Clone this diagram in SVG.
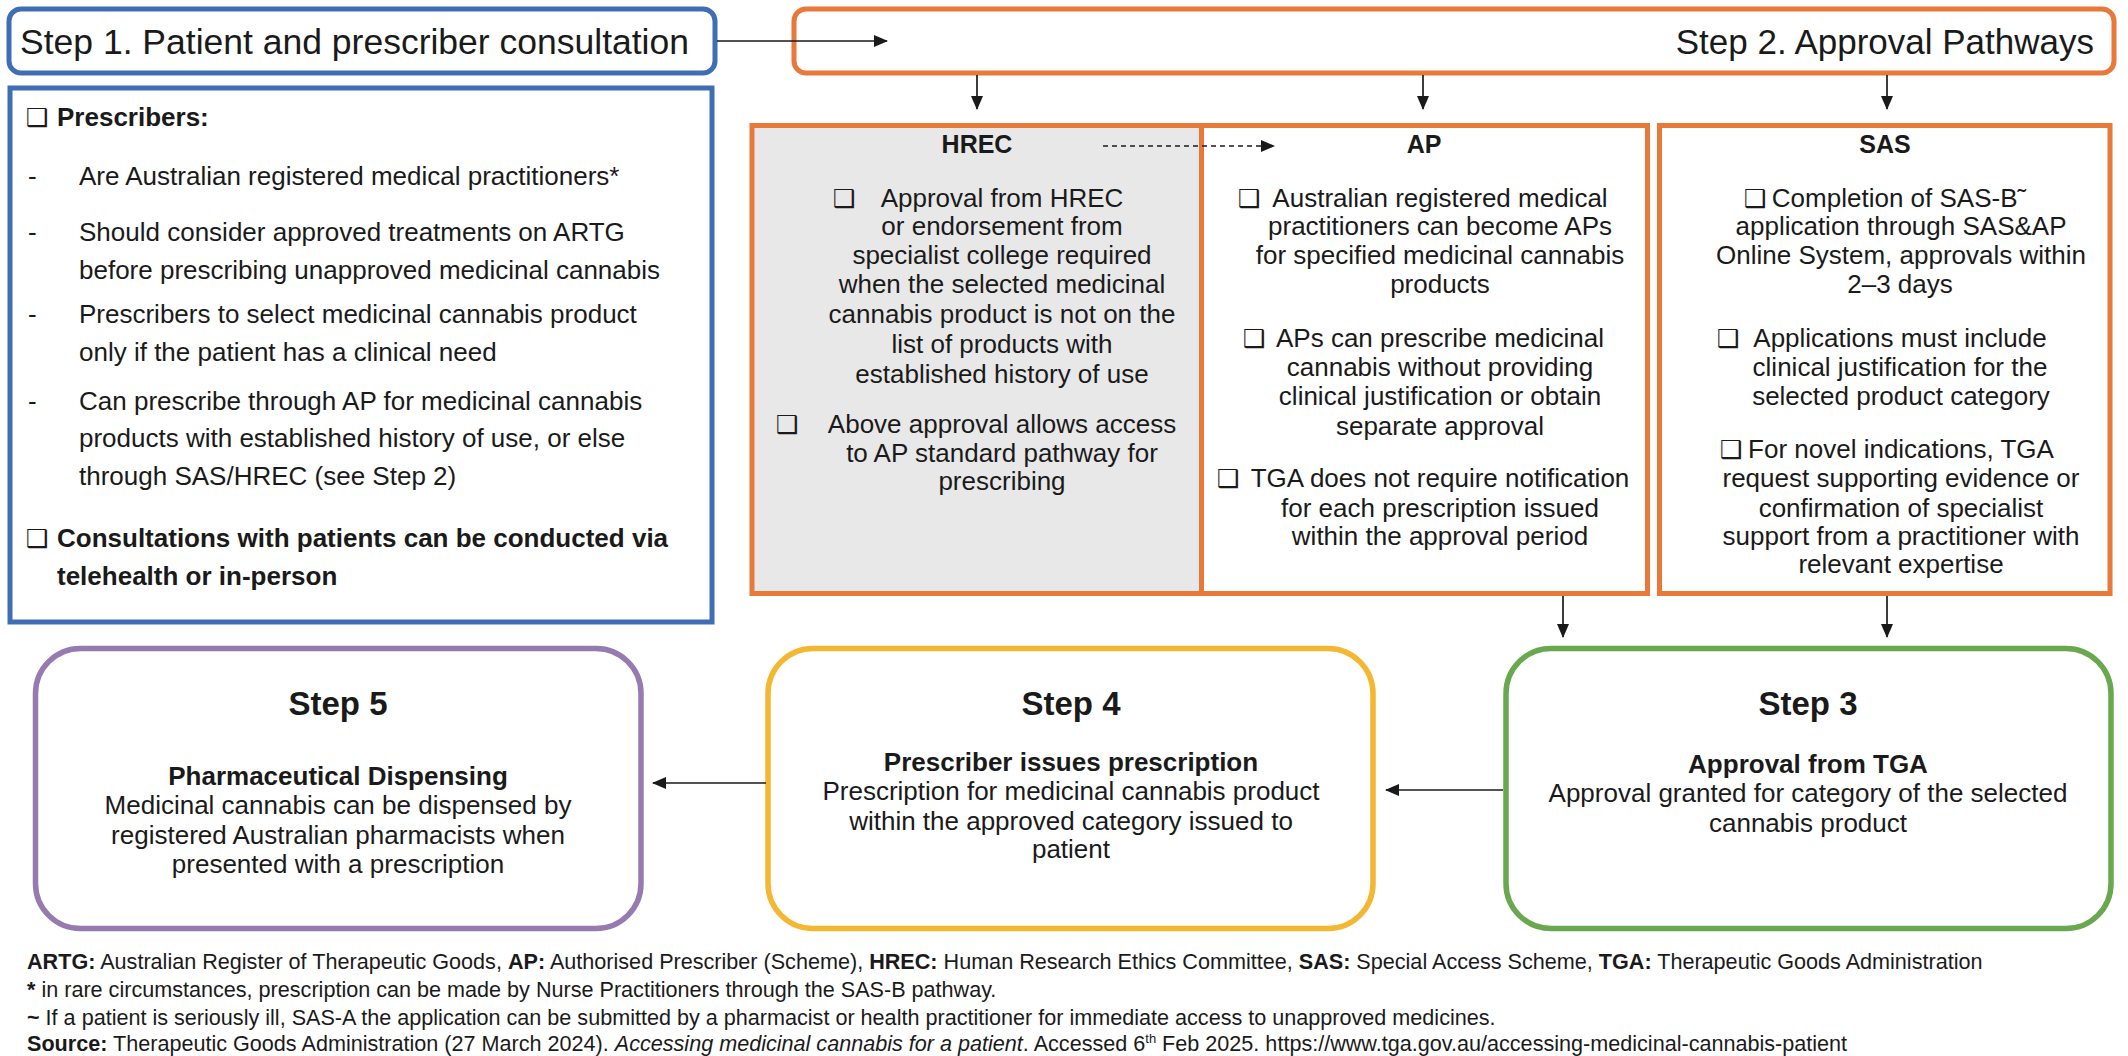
<svg xmlns="http://www.w3.org/2000/svg" width="2128" height="1056" viewBox="0 0 2128 1056">
<style>
.t{font-family:"Liberation Sans",Arial,sans-serif;fill:#1a1a1a}
.b{font-weight:bold}
.i{font-style:italic}
.s26{font-size:26px}
.c{text-anchor:middle}
.cb{font-family:"DejaVu Sans",sans-serif;fill:#1a1a1a;font-size:25px;font-weight:bold}
.conn{stroke:#1a1a1a;stroke-width:1.7;fill:none}
.org{stroke:#E8793A;stroke-width:5}
.ft{font-family:"Liberation Sans",Arial,sans-serif;fill:#1a1a1a;font-size:21.6px}
</style>
<defs>
<marker id="ah" markerWidth="14" markerHeight="12" refX="13" refY="6" orient="auto" markerUnits="userSpaceOnUse"><path d="M0,0 L14,6 L0,12 z" fill="#1a1a1a"/></marker>
</defs>
<rect width="2128" height="1056" fill="#ffffff"/>

<g id="step1-header">
<rect x="9" y="9" width="706" height="64" rx="12" fill="#fff" stroke="#3F6EB5" stroke-width="5"/>
<text class="t" x="20" y="54" font-size="35.5">Step 1. Patient and prescriber consultation</text>
</g>

<g id="step1-content">
<rect x="10" y="88" width="702" height="534" fill="#fff" stroke="#3F6EB5" stroke-width="5"/>
<text class="cb" x="26" y="126">❑</text>
<text class="t b s26" x="57" y="126">Prescribers:</text>
<text class="t s26" x="28" y="185">-</text>
<text class="t s26" x="79" y="185">Are Australian registered medical practitioners*</text>
<text class="t s26" x="28" y="241">-</text>
<text class="t s26" x="79" y="241">Should consider approved treatments on ARTG</text>
<text class="t s26" x="79" y="279">before prescribing unapproved medicinal cannabis</text>
<text class="t s26" x="28" y="323">-</text>
<text class="t s26" x="79" y="323">Prescribers to select medicinal cannabis product</text>
<text class="t s26" x="79" y="361">only if the patient has a clinical need</text>
<text class="t s26" x="28" y="410">-</text>
<text class="t s26" x="79" y="410">Can prescribe through AP for medicinal cannabis</text>
<text class="t s26" x="79" y="447">products with established history of use, or else</text>
<text class="t s26" x="79" y="485">through SAS/HREC (see Step 2)</text>
<text class="cb" x="26" y="547">❑</text>
<text class="t b s26" x="57" y="547">Consultations with patients can be conducted via</text>
<text class="t b s26" x="57" y="585">telehealth or in-person</text>
</g>

<g id="step2-header">
<rect x="794" y="9" width="1320" height="64" rx="12" fill="#fff" stroke="#E8793A" stroke-width="5"/>
<text class="t" x="2094" y="54" font-size="35" text-anchor="end">Step 2. Approval Pathways</text>
</g>

<g id="hrec">
<rect x="752" y="125.5" width="449.5" height="468" fill="#E8E8E8" class="org"/>
<text class="t b c" x="977" y="153" font-size="25">HREC</text>
<text class="cb" x="833" y="207">❑</text>
<g class="t s26 c">
<text x="1002" y="207">Approval from HREC</text>
<text x="1002" y="235">or endorsement from</text>
<text x="1002" y="264">specialist college required</text>
<text x="1002" y="293">when the selected medicinal</text>
<text x="1002" y="323">cannabis product is not on the</text>
<text x="1002" y="353">list of products with</text>
<text x="1002" y="383">established history of use</text>
<text x="1002" y="433">Above approval allows access</text>
<text x="1002" y="462">to AP standard pathway for</text>
<text x="1002" y="490">prescribing</text>
</g>
<text class="cb" x="776" y="433">❑</text>
</g>

<g id="ap">
<rect x="1201.5" y="125.5" width="446" height="468" fill="#fff" class="org"/>
<text class="t b c" x="1424" y="153" font-size="25">AP</text>
<text class="cb" x="1238" y="207">❑</text>
<text class="cb" x="1243" y="347">❑</text>
<text class="cb" x="1217" y="487">❑</text>
<g class="t s26 c">
<text x="1440" y="207">Australian registered medical</text>
<text x="1440" y="235">practitioners can become APs</text>
<text x="1440" y="264">for specified medicinal cannabis</text>
<text x="1440" y="293">products</text>
<text x="1440" y="347">APs can prescribe medicinal</text>
<text x="1440" y="376">cannabis without providing</text>
<text x="1440" y="405">clinical justification or obtain</text>
<text x="1440" y="435">separate approval</text>
<text x="1440" y="487">TGA does not require notification</text>
<text x="1440" y="517">for each prescription issued</text>
<text x="1440" y="545">within the approval period</text>
</g>
</g>

<g id="sas">
<rect x="1659.5" y="125.5" width="450.5" height="468" fill="#fff" class="org"/>
<text class="t b c" x="1885" y="153" font-size="25">SAS</text>
<text class="cb" x="1744" y="207">❑</text>
<text class="cb" x="1717" y="347">❑</text>
<text class="cb" x="1720" y="458">❑</text>
<g class="t s26 c">
<text x="1899" y="207">Completion of SAS-B˜</text>
<text x="1901" y="235">application through SAS&amp;AP</text>
<text x="1901" y="264">Online System, approvals within</text>
<text x="1900" y="293">2–3 days</text>
<text x="1900" y="347">Applications must include</text>
<text x="1900" y="376">clinical justification for the</text>
<text x="1901" y="405">selected product category</text>
<text x="1901" y="458">For novel indications, TGA</text>
<text x="1901" y="487">request supporting evidence or</text>
<text x="1901" y="517">confirmation of specialist</text>
<text x="1901" y="545">support from a practitioner with</text>
<text x="1901" y="573">relevant expertise</text>
</g>
</g>

<g id="step3">
<rect x="1506" y="648.5" width="605" height="280" rx="45" fill="#fff" stroke="#6AA84F" stroke-width="5.5"/>
<text class="t b c" x="1808" y="715" font-size="33">Step 3</text>
<text class="t b c s26" x="1808" y="773">Approval from TGA</text>
<text class="t c s26" x="1808" y="802">Approval granted for category of the selected</text>
<text class="t c s26" x="1808" y="832">cannabis product</text>
</g>

<g id="step4">
<rect x="768" y="648.5" width="605" height="280" rx="45" fill="#fff" stroke="#F4B731" stroke-width="5.5"/>
<text class="t b c" x="1071" y="715" font-size="33">Step 4</text>
<text class="t b c s26" x="1071" y="771">Prescriber issues prescription</text>
<text class="t c s26" x="1071" y="800">Prescription for medicinal cannabis product</text>
<text class="t c s26" x="1071" y="830">within the approved category issued to</text>
<text class="t c s26" x="1071" y="858">patient</text>
</g>

<g id="step5">
<rect x="35.5" y="648.5" width="605.5" height="280" rx="45" fill="#fff" stroke="#957BB0" stroke-width="5.5"/>
<text class="t b c" x="338" y="715" font-size="33">Step 5</text>
<text class="t b c s26" x="338" y="785">Pharmaceutical Dispensing</text>
<text class="t c s26" x="338" y="814">Medicinal cannabis can be dispensed by</text>
<text class="t c s26" x="338" y="844">registered Australian pharmacists when</text>
<text class="t c s26" x="338" y="873">presented with a prescription</text>
</g>

<g id="connectors">
<path class="conn" d="M717,41 H887" marker-end="url(#ah)"/>
<path class="conn" d="M977,75 V109" marker-end="url(#ah)"/>
<path class="conn" d="M1423,75 V109" marker-end="url(#ah)"/>
<path class="conn" d="M1887,75 V109" marker-end="url(#ah)"/>
<path class="conn" d="M1103,146 H1274" stroke-dasharray="5,4" stroke-width="1.3" marker-end="url(#ah)"/>
<path class="conn" d="M1563,596 V637" marker-end="url(#ah)"/>
<path class="conn" d="M1887,596 V637" marker-end="url(#ah)"/>
<path class="conn" d="M1503,790 H1386" marker-end="url(#ah)"/>
<path class="conn" d="M766,783 H653" marker-end="url(#ah)"/>
</g>

<g id="footer">
<text class="ft" x="27" y="969"><tspan class="b">ARTG:</tspan> Australian Register of Therapeutic Goods, <tspan class="b">AP:</tspan> Authorised Prescriber (Scheme), <tspan class="b">HREC:</tspan> Human Research Ethics Committee, <tspan class="b">SAS:</tspan> Special Access Scheme, <tspan class="b">TGA:</tspan> Therapeutic Goods Administration</text>
<text class="ft" x="27" y="997"><tspan class="b">*</tspan> in rare circumstances, prescription can be made by Nurse Practitioners through the SAS-B pathway.</text>
<text class="ft" x="27" y="1025"><tspan class="b">~</tspan> If a patient is seriously ill, SAS-A  the application can be submitted by a pharmacist or health practitioner for immediate access to unapproved medicines.</text>
<text class="ft" x="27" y="1051"><tspan class="b">Source:</tspan> Therapeutic Goods Administration (27 March 2024). <tspan class="i">Accessing medicinal cannabis for a patient</tspan>. Accessed 6<tspan font-size="13" dy="-8">th</tspan><tspan dy="8"> Feb 2025. https://www.tga.gov.au/accessing-medicinal-cannabis-patient</tspan></text>
</g>
</svg>
